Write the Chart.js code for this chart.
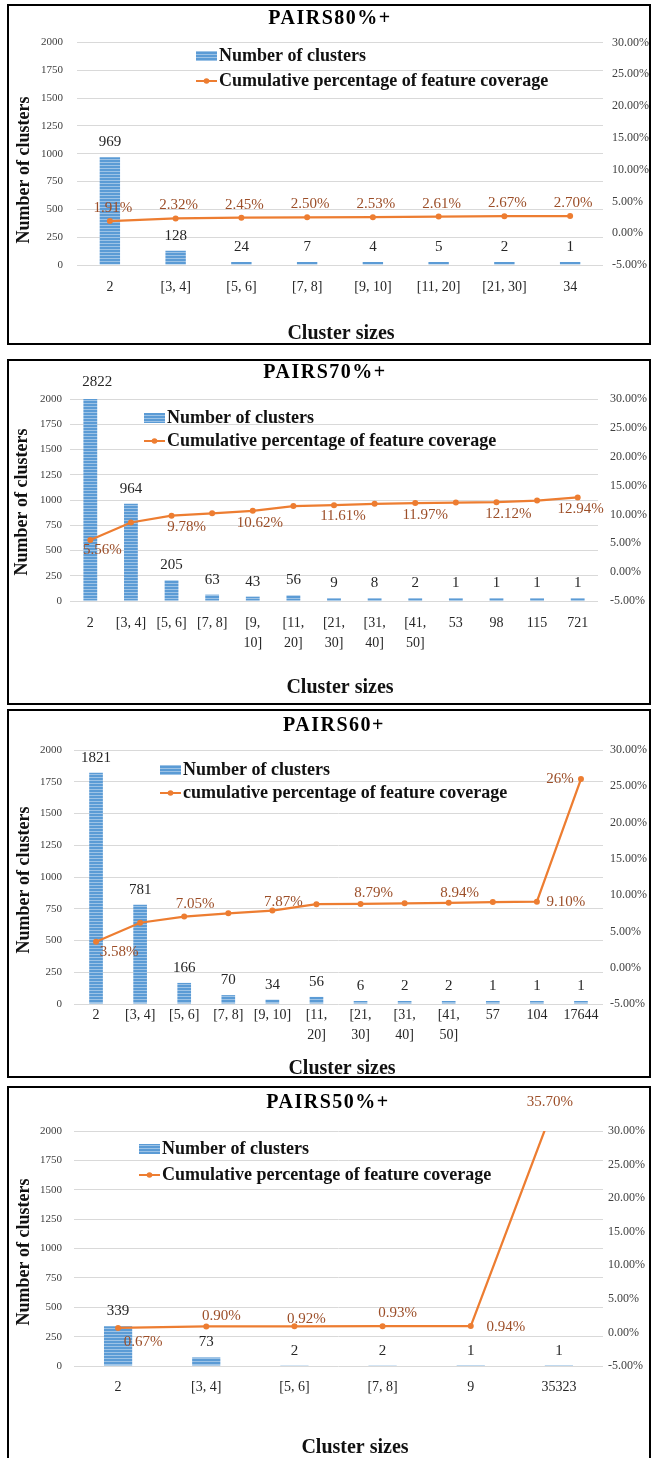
<!DOCTYPE html>
<html><head><meta charset="utf-8">
<script src="https://cdn.jsdelivr.net/npm/chart.js@4.4.1/dist/chart.umd.min.js"></script>
<style>
html,body{margin:0;padding:0;background:#fff;width:653px;height:1458px;overflow:hidden;position:relative;}
.frame{position:absolute;border:2px solid #000;box-sizing:border-box;pointer-events:none;}
canvas{position:absolute;left:0;}
</style></head><body>
<script>
// ---------------- DATA ----------------
const leftTicks = [0, 250, 500, 750, 1000, 1250, 1500, 1750, 2000];
const rightTicks = [-5, 0, 5, 10, 15, 20, 25, 30];

const p80Categories = ['2', '[3, 4]', '[5, 6]', '[7, 8]', '[9, 10]', '[11, 20]', '[21, 30]', '34'];
const p80Clusters = [969, 128, 24, 7, 4, 5, 2, 1];
const p80Coverage = [1.91, 2.32, 2.45, 2.50, 2.53, 2.61, 2.67, 2.70];
const p80CoverageLabels = ['1.91%', '2.32%', '2.45%', '2.50%', '2.53%', '2.61%', '2.67%', '2.70%'];

const p70Categories = ['2', '[3, 4]', '[5, 6]', '[7, 8]', ['[9,', '10]'], ['[11,', '20]'], ['[21,', '30]'], ['[31,', '40]'], ['[41,', '50]'], '53', '98', '115', '721'];
const p70Clusters = [2822, 964, 205, 63, 43, 56, 9, 8, 2, 1, 1, 1, 1];
const p70Coverage = [5.56, 8.6, 9.78, 10.2, 10.62, 11.45, 11.61, 11.85, 11.97, 12.05, 12.12, 12.4, 12.94];
const p70CoverageLabels = ['5.56%', null, '9.78%', null, '10.62%', null, '11.61%', null, '11.97%', null, '12.12%', null, '12.94%'];

const p60Categories = ['2', '[3, 4]', '[5, 6]', '[7, 8]', '[9, 10]', ['[11,', '20]'], ['[21,', '30]'], ['[31,', '40]'], ['[41,', '50]'], '57', '104', '17644'];
const p60Clusters = [1821, 781, 166, 70, 34, 56, 6, 2, 2, 1, 1, 1];
const p60Coverage = [3.58, 6.2, 7.05, 7.5, 7.87, 8.75, 8.79, 8.88, 8.94, 9.05, 9.10, 26];
const p60CoverageLabels = ['3.58%', null, '7.05%', null, '7.87%', null, '8.79%', null, '8.94%', null, '9.10%', '26%'];

const p50Categories = ['2', '[3, 4]', '[5, 6]', '[7, 8]', '9', '35323'];
const p50Clusters = [339, 73, 2, 2, 1, 1];
const p50Coverage = [0.67, 0.90, 0.92, 0.93, 0.94, 35.70];
const p50CoverageLabels = ['0.67%', '0.90%', '0.92%', '0.93%', '0.94%', '35.70%'];

// ---------------- STYLE / LAYOUT ----------------
const FONT = "'Liberation Serif','Times New Roman',serif";
const BAR_LEGEND = 'Number of clusters';

const panels = [
  { title: 'PAIRS80%+', lineLegend: 'Cumulative percentage of feature coverage',
    categories: p80Categories, clusters: p80Clusters, coverage: p80Coverage, covLabels: p80CoverageLabels,
    top: 4, bottom: 345, plot: { left: 77, right: 603, top: 42.5, bottom: 265 },
    lPad: 14, rPad: 9, xPad: 12, barPct: 0.31, minBar: 3,
    titlePos: [330, 19], legendX: 196, legendRows: [56, 81], yTitle: [24, 170], xTitle: [341, 334],
    offsets: [[3,-13],[3,-13],[3,-13],[3,-13],[3,-13],[3,-13],[3,-13],[3,-13]], topLabelDx: 0 },
  { title: 'PAIRS70%+', lineLegend: 'Cumulative percentage of feature coverage',
    categories: p70Categories, clusters: p70Clusters, coverage: p70Coverage, covLabels: p70CoverageLabels,
    top: 359, bottom: 705, plot: { left: 70, right: 598, top: 399, bottom: 601 },
    lPad: 8, rPad: 12, xPad: 12, barPct: 0.34, minBar: 3,
    titlePos: [325, 373], legendX: 144, legendRows: [418, 441], yTitle: [22, 502], xTitle: [340, 688],
    offsets: [[12,10],null,[15,11],null,[7,12],null,[9,11],null,[10,12],null,[12,12],null,[3,12]], topLabelDx: 7 },
  { title: 'PAIRS60+', lineLegend: 'cumulative percentage of feature coverage',
    categories: p60Categories, clusters: p60Clusters, coverage: p60Coverage, covLabels: p60CoverageLabels,
    top: 709, bottom: 1078, plot: { left: 74, right: 603, top: 750, bottom: 1004 },
    lPad: 12, rPad: 7, xPad: 1, barPct: 0.31, minBar: 3,
    titlePos: [334, 726], legendX: 160, legendRows: [770, 793], yTitle: [24, 880], xTitle: [342, 1069],
    offsets: [[23,10],null,[11,-12],null,[11,-9],null,[13,-11],null,[11,-10],null,[29,0],[-21,0]], topLabelDx: 0 },
  { title: 'PAIRS50%+', lineLegend: 'Cumulative percentage of feature coverage',
    categories: p50Categories, clusters: p50Clusters, coverage: p50Coverage, covLabels: p50CoverageLabels,
    top: 1086, bottom: 1475, plot: { left: 74, right: 603, top: 1131, bottom: 1366 },
    lPad: 12, rPad: 5, xPad: 11, barPct: 0.32, minBar: 0,
    titlePos: [328, 1103], legendX: 139, legendRows: [1149, 1175], yTitle: [24, 1252], xTitle: [355, 1448],
    offsets: [[25,14],[15,-10],[12,-7],[15,-13],[35,1],[-9,9]], topLabelDx: 0 }
];

const BAR_COLOR = '#5B9BD5';
const BAR_STRIPE = '#9DC3E6';
const LINE_COLOR = '#ED7D31';
const LABEL_BROWN = '#9C4E28';
const TICK_GRAY = '#404040';
const TEXT_DARK = '#262626';

function makePattern(ctx) {
  const t = document.createElement('canvas');
  t.width = 4; t.height = 3;
  const g = t.getContext('2d');
  g.fillStyle = BAR_COLOR; g.fillRect(0, 0, 4, 3);
  g.fillStyle = BAR_STRIPE; g.fillRect(0, 2, 4, 1);
  return ctx.createPattern(t, 'repeat');
}

const annotPlugin = {
  id: 'annot',
  afterDatasetsDraw(chart) {
    const s = chart.$spec, ctx = chart.ctx, area = chart.chartArea;
    const lineMeta = chart.getDatasetMeta(0), barMeta = chart.getDatasetMeta(1);
    ctx.save();
    ctx.textAlign = 'center'; ctx.textBaseline = 'middle';
    ctx.font = `15px ${FONT}`; ctx.fillStyle = TEXT_DARK;
    barMeta.data.forEach((el, i) => {
      const clipped = el.y < area.top;
      const top = Math.max(el.y, area.top);
      ctx.fillText(String(s.clusters[i]), el.x + (clipped ? s.topLabelDx : 0), top - (clipped ? 17 : 15));
    });
    ctx.fillStyle = LABEL_BROWN;
    lineMeta.data.forEach((el, i) => {
      const t = s.covLabels[i];
      if (!t) return;
      const o = s.offsets[i] || [0, 0];
      ctx.fillText(t, el.x + o[0], el.y + o[1]);
    });
    ctx.restore();
  },
  afterDraw(chart) {
    const s = chart.$spec, ctx = chart.ctx, off = s.top;
    ctx.save();
    ctx.fillStyle = '#000';
    ctx.font = `bold 20px ${FONT}`;
    ctx.textBaseline = 'middle';
    ctx.letterSpacing = '1.5px';
    ctx.textAlign = 'center';
    ctx.fillText(s.title, s.titlePos[0], s.titlePos[1] - off);
    ctx.letterSpacing = '0px';
    const lx = s.legendX, r1 = s.legendRows[0] - off, r2 = s.legendRows[1] - off;
    ctx.fillStyle = chart.$pattern;
    ctx.fillRect(lx, r1 - 5, 21, 10);
    ctx.strokeStyle = LINE_COLOR; ctx.lineWidth = 2;
    ctx.beginPath(); ctx.moveTo(lx, r2); ctx.lineTo(lx + 21, r2); ctx.stroke();
    ctx.fillStyle = LINE_COLOR;
    ctx.beginPath(); ctx.arc(lx + 10.5, r2, 2.8, 0, Math.PI * 2); ctx.fill();
    ctx.fillStyle = '#111';
    ctx.font = `bold 18px ${FONT}`;
    ctx.textAlign = 'left';
    ctx.fillText(BAR_LEGEND, lx + 23, r1);
    ctx.fillText(s.lineLegend, lx + 23, r2);
    ctx.textAlign = 'center';
    ctx.font = `bold 20px ${FONT}`;
    ctx.fillText('Cluster sizes', s.xTitle[0], s.xTitle[1] - off);
    ctx.font = `bold 18px ${FONT}`;
    ctx.translate(s.yTitle[0], s.yTitle[1] - off);
    ctx.rotate(-Math.PI / 2);
    ctx.fillText('Number of clusters', 0, 0);
    ctx.restore();
  }
};

panels.forEach((s) => {
  const h = s.bottom - s.top;
  const canvas = document.createElement('canvas');
  canvas.width = 653; canvas.height = h;
  canvas.style.top = s.top + 'px';
  canvas.style.width = '653px'; canvas.style.height = h + 'px';
  document.body.appendChild(canvas);
  const frame = document.createElement('div');
  frame.className = 'frame';
  frame.style.left = '7px'; frame.style.top = s.top + 'px';
  frame.style.width = '644px'; frame.style.height = h + 'px';
  document.body.appendChild(frame);

  const ctx = canvas.getContext('2d');
  const pattern = makePattern(ctx);
  new Chart(canvas, {
    type: 'bar',
    data: {
      labels: s.categories,
      datasets: [
        { type: 'line', data: s.coverage, yAxisID: 'y1', order: 0, clip: 0,
          borderColor: LINE_COLOR, backgroundColor: LINE_COLOR, borderWidth: 2.25,
          pointRadius: 3, pointHoverRadius: 3, pointBackgroundColor: LINE_COLOR, pointBorderWidth: 0, tension: 0 },
        { type: 'bar', data: s.clusters, yAxisID: 'y', order: 1, clip: 0,
          backgroundColor: pattern, barPercentage: s.barPct, categoryPercentage: 1, minBarLength: s.minBar }
      ]
    },
    options: {
      responsive: false, animation: false, devicePixelRatio: 1, events: [],
      layout: { padding: { left: 0, right: 0, top: s.plot.top - s.top, bottom: 0 } },
      plugins: { legend: { display: false }, tooltip: { enabled: false }, title: { display: false } },
      scales: {
        x: {
          type: 'category', offset: true,
          grid: { display: false, drawTicks: false }, border: { display: false },
          ticks: { autoSkip: false, maxRotation: 0, minRotation: 0, padding: s.xPad, color: TEXT_DARK,
                   font: { family: FONT, size: 14, lineHeight: 1.45 } },
          afterFit: (sc) => { sc.height = s.bottom - s.plot.bottom; }
        },
        y: {
          position: 'left', min: leftTicks[0], max: leftTicks[leftTicks.length - 1],
          afterBuildTicks: (sc) => { sc.ticks = leftTicks.map(v => ({ value: v })); },
          grid: { color: '#D9D9D9', lineWidth: 1, drawTicks: false }, border: { display: false },
          ticks: { padding: s.lPad, color: TICK_GRAY, font: { family: FONT, size: 11 }, callback: (v) => String(v) },
          afterFit: (sc) => { sc.width = s.plot.left; }
        },
        y1: {
          position: 'right', min: rightTicks[0], max: rightTicks[rightTicks.length - 1],
          afterBuildTicks: (sc) => { sc.ticks = rightTicks.map(v => ({ value: v })); },
          grid: { display: false, drawTicks: false }, border: { display: false },
          ticks: { padding: s.rPad, color: TICK_GRAY, font: { family: FONT, size: 12 }, callback: (v) => Number(v).toFixed(2) + '%' },
          afterFit: (sc) => { sc.width = 653 - s.plot.right; }
        }
      }
    },
    plugins: [{ id: 'spec', beforeInit(c) { c.$spec = s; c.$pattern = pattern; } }, annotPlugin]
  });
});
</script>
</body></html>
